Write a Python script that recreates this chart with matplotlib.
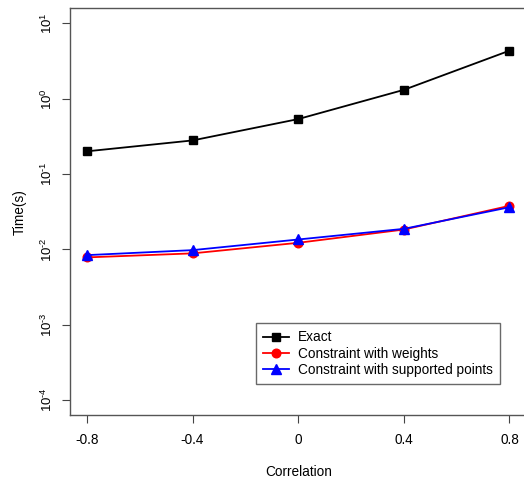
import numpy as np
import matplotlib
matplotlib.use("Agg")
import matplotlib.pyplot as plt

correlation = [-0.8, -0.4, 0.0, 0.4, 0.8]
exact = [0.200, 0.279, 0.536, 1.31, 4.34]
weights = [0.00781, 0.00883, 0.0122, 0.0183, 0.0378]
supported = [0.00837, 0.00975, 0.0135, 0.0187, 0.0362]

xticks = [-0.8, -0.4, 0, 0.4, 0.8]
xticklabels = ["-0.8", "-0.4", "0", "0.4", "0.8"]
yexp = [-4, -3, -2, -1, 0, 1]

plt.rcParams['font.family'] = ['Liberation Sans', 'DejaVu Sans']
plt.rcParams['mathtext.fontset'] = 'custom'
plt.rcParams['mathtext.rm'] = 'Liberation Sans'

W, H = 524, 484
fig = plt.figure(figsize=(W / 100, H / 100), dpi=100)
left, right, top, bottom = 70, 526.4, 8.3, 415
ax = fig.add_axes([left / W, 1 - bottom / H, (right - left) / W, (bottom - top) / H])

ax.plot(correlation, exact, color='black', lw=1.3, marker='s', ms=6.2, label='Exact')
ax.plot(correlation, weights, color='red', lw=1.3, marker='o', ms=6.2, label='Constraint with weights')
ax.plot(correlation, supported, color='blue', lw=1.3, marker='^', ms=7.0, label='Constraint with supported points')

ax.set_yscale('log')
ax.set_xlim(-0.864, 0.864)
ax.set_ylim(10 ** -4.2, 10 ** 1.2)
ax.set_xticks(xticks)
ax.set_xticklabels(xticklabels, fontsize=9.8)


def ylab(e):
    if e < 0:
        return r'$10^{\text{-}%d}$' % (-e)
    return r'$10^{%d}$' % e


ax.set_yticks([10.0 ** e for e in yexp])
ax.set_yticklabels([ylab(e) for e in yexp], fontsize=9.5, rotation=90, va='center')
ax.minorticks_off()
ax.tick_params(direction='out', length=6, width=0.8, color='#444444', pad=7)
ax.tick_params(axis='y', pad=5)

for s in ax.spines.values():
    s.set_color('#555555')
    s.set_linewidth(1.0)

ax.set_xlabel('Correlation', fontsize=9.8, labelpad=13)
ax.set_ylabel('Time(s)', fontsize=9.8, labelpad=9)

leg = ax.legend(loc='upper left', bbox_to_anchor=(256 / W, 1 - 323 / H),
                bbox_transform=fig.transFigure, borderaxespad=0, fontsize=9.8,
                frameon=True, fancybox=False, edgecolor='#444444',
                handlelength=1.9, handletextpad=0.6, labelspacing=0.15,
                borderpad=0.55)
leg.get_frame().set_linewidth(1.0)

fig.savefig('out.png', dpi=100)
